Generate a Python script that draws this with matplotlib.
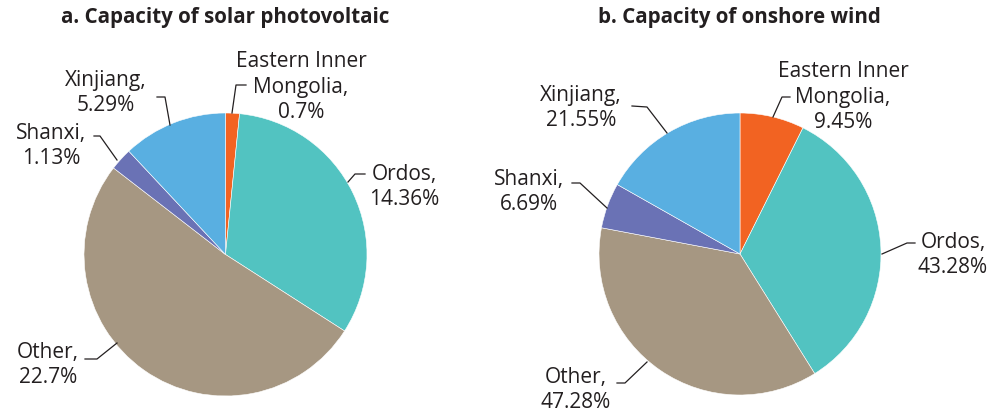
import matplotlib
matplotlib.use("Agg")
import matplotlib.pyplot as plt
from matplotlib.lines import Line2D

# ---- data ----
regions = ["Eastern Inner\nMongolia", "Ordos", "Other", "Shanxi", "Xinjiang"]
solar_values = [0.7, 14.36, 22.7, 1.13, 5.29]
wind_values = [9.45, 43.28, 47.28, 6.69, 21.55]
titles = ["a. Capacity of solar photovoltaic", "b. Capacity of onshore wind"]
colors = ["#F26322", "#52C3C1", "#A69782", "#6A72B5", "#59AFE1"]

# ---- layout (pixels) ----
W, H = 1004, 415
TXT = "#231F20"
FONT = "Open Sans"

centers = [(225.5, 254.5, 141.5), (740.0, 254.0, 141.0)]
title_pos = [(225, 18), (739, 18)]
label_pos = [
    [(301, 87), (404, 187), (48, 365), (51, 146), (106, 93)],
    [(843, 97), (953, 255), (576, 390), (529, 192), (581, 108)],
]
leaders = [
    [[(232, 113), (236, 85), (246, 85)],
     [(348, 182), (355, 174), (365, 174)],
     [(117, 343), (97, 359), (85, 359)],
     [(117, 160), (100, 136), (94, 136)],
     [(170, 125), (165, 97), (157, 97)]],
    [[(773, 117), (782, 97), (790, 97)],
     [(882, 254), (907, 243), (915, 243)],
     [(647, 362), (625, 383), (617, 383)],
     [(607, 208), (580, 183), (572, 183)],
     [(667, 133), (647, 107), (632, 106)]],
]

fig = plt.figure(figsize=(W / 100, H / 100), dpi=100)


def fx(px):
    return px / W


def fy(py):
    return 1 - py / H


for i, vals in enumerate([solar_values, wind_values]):
    cx, cy, r = centers[i]
    ax = fig.add_axes([fx(cx - r), fy(cy + r), 2 * r / W, 2 * r / H])
    ax.pie(vals, colors=colors, startangle=90, counterclock=False, radius=1,
           wedgeprops=dict(edgecolor="white", linewidth=0.4))
    ax.set_xlim(-1, 1)
    ax.set_ylim(-1, 1)
    ax.set_aspect("equal")
    ax.axis("off")

    tx, ty = title_pos[i]
    fig.text(fx(tx), fy(ty), titles[i], ha="center", va="center",
             fontsize=14.8, fontweight="bold", color=TXT, family=FONT)

    for j, (name, v) in enumerate(zip(regions, vals)):
        lx, ly = label_pos[i][j]
        fig.text(fx(lx), fy(ly), f"{name},\n{v}%", ha="center", va="center",
                 multialignment="center", fontsize=15, color=TXT,
                 family=FONT, linespacing=1.29)
        pts = leaders[i][j]
        fig.add_artist(Line2D([fx(p[0]) for p in pts], [fy(p[1]) for p in pts],
                              color=TXT, linewidth=0.9))

fig.savefig("out.png", dpi=100)
